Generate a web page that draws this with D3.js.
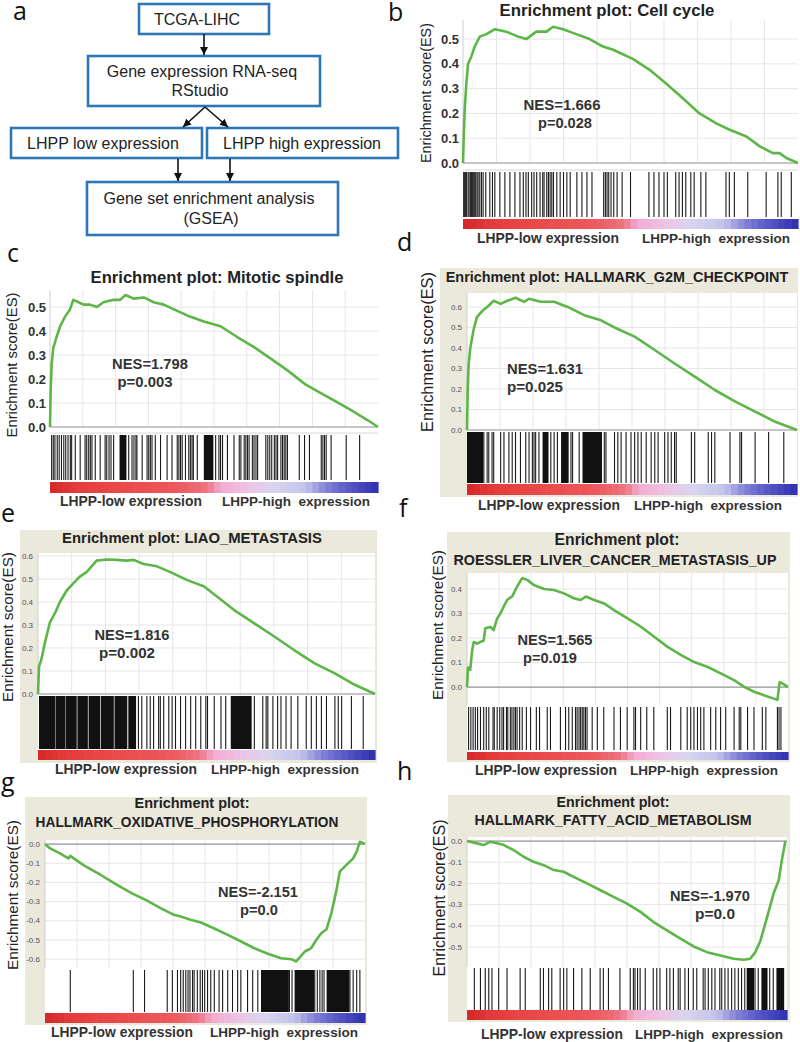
<!DOCTYPE html>
<html><head><meta charset="utf-8">
<script src="https://cdn.jsdelivr.net/npm/d3@7"></script>
<style>body{margin:0;background:#fff} svg{display:block} text{font-family:"Liberation Sans",Arial,sans-serif}</style>
</head><body><script>
const RANKS = 1000;

// ---------- data: running enrichment score, [rank, ES] ----------
const cellCycleES = [[0,0],[2,0.094],[5,0.215],[10,0.32],[15,0.40],[25,0.43],[35,0.47],[50,0.51],[70,0.52],[95,0.54],[129,0.53],[164,0.51],[189,0.50],[219,0.53],[249,0.53],[269,0.55],[299,0.54],[338,0.52],[378,0.50],[418,0.47],[448,0.457],[507,0.42],[557,0.376],[607,0.32],[657,0.26],[706,0.20],[756,0.16],[796,0.134],[846,0.107],[886,0.067],[925,0.04],[945,0.04],[965,0.02],[1000,0]];
const mitoticES = [[0,0],[2,0.15],[5,0.26],[10,0.33],[20,0.375],[31,0.42],[46,0.46],[61,0.49],[71,0.53],[87,0.52],[102,0.51],[122,0.51],[143,0.50],[163,0.52],[194,0.53],[214,0.53],[230,0.55],[255,0.535],[286,0.54],[316,0.52],[347,0.51],[378,0.49],[418,0.465],[469,0.44],[520,0.42],[571,0.375],[622,0.333],[673,0.285],[724,0.236],[776,0.18],[827,0.14],[867,0.11],[918,0.07],[969,0.028],[1000,0]];
const g2mES = [[0,0],[2,0.19],[5,0.32],[10,0.40],[20,0.49],[30,0.55],[46,0.58],[61,0.60],[81,0.63],[102,0.615],[122,0.63],[147,0.645],[173,0.625],[188,0.64],[223,0.625],[264,0.625],[305,0.60],[355,0.56],[406,0.535],[447,0.50],[508,0.455],[569,0.39],[629,0.324],[690,0.26],[751,0.195],[812,0.14],[873,0.09],[934,0.04],[1000,0]];
const liaoES = [[0,0],[3,0.12],[10,0.15],[20,0.22],[35,0.31],[50,0.35],[65,0.40],[85,0.45],[104,0.48],[124,0.51],[144,0.53],[159,0.555],[174,0.58],[204,0.585],[234,0.583],[264,0.58],[284,0.583],[313,0.565],[353,0.555],[393,0.53],[443,0.495],[493,0.467],[532,0.423],[582,0.365],[642,0.307],[701,0.25],[761,0.19],[821,0.133],[881,0.09],[940,0.04],[1000,0]];
const roesslerES = [[0,0],[3,0.08],[10,0.07],[16,0.15],[21,0.184],[31,0.177],[42,0.184],[52,0.19],[57,0.24],[73,0.245],[83,0.232],[94,0.28],[104,0.30],[115,0.33],[125,0.355],[141,0.37],[156,0.41],[172,0.444],[188,0.437],[208,0.416],[240,0.40],[271,0.396],[302,0.382],[333,0.362],[354,0.355],[370,0.369],[396,0.355],[427,0.341],[458,0.314],[500,0.28],[542,0.246],[583,0.205],[625,0.164],[667,0.13],[708,0.102],[750,0.082],[792,0.055],[833,0.027],[865,0],[896,-0.02],[927,-0.034],[958,-0.048],[967,-0.052],[974,0.02],[984,0.014],[1000,0]];
const oxphosES = [[0,0],[16,-0.023],[47,-0.049],[73,-0.075],[79,-0.062],[120,-0.11],[173,-0.16],[225,-0.213],[272,-0.257],[319,-0.295],[361,-0.334],[403,-0.369],[424,-0.378],[455,-0.395],[487,-0.409],[529,-0.44],[571,-0.473],[613,-0.508],[654,-0.543],[696,-0.572],[738,-0.595],[770,-0.6],[785,-0.612],[812,-0.56],[832,-0.542],[848,-0.499],[864,-0.464],[880,-0.444],[895,-0.36],[911,-0.239],[921,-0.144],[942,-0.109],[963,-0.075],[974,-0.04],[984,0.012],[1000,0]];
const fattyES = [[0,0],[31,-0.011],[52,-0.019],[73,-0.003],[94,-0.011],[115,-0.019],[146,-0.043],[177,-0.074],[208,-0.098],[240,-0.114],[271,-0.137],[302,-0.145],[333,-0.169],[375,-0.2],[417,-0.232],[458,-0.263],[500,-0.295],[542,-0.334],[583,-0.382],[625,-0.421],[667,-0.46],[708,-0.497],[750,-0.524],[792,-0.54],[833,-0.555],[865,-0.56],[885,-0.555],[901,-0.524],[917,-0.47],[938,-0.358],[958,-0.248],[974,-0.185],[984,-0.09],[995,0]];

// ---------- data: gene-set hit ranks, and solid runs [from, to] ----------
const cellCycleHits = [2,5,8,10,15,18,22,25,28,32,35,38,42,45,50,55,60,68,80,88,95,110,125,140,155,170,180,188,195,205,212,220,230,238,242,250,255,260,265,270,280,290,300,310,320,340,355,370,385,420,425,430,435,442,450,460,475,500,555,570,585,600,610,635,645,655,665,680,690,710,725,785,795,810,850,905,940,950,980];
const cellCycleRuns = [];
const mitoticHits = [5,10,15,22,28,35,42,48,55,62,66,77,92,107,112,118,123,128,138,153,168,173,180,186,194,240,250,256,262,265,281,296,301,306,311,321,337,357,372,388,393,398,403,413,423,428,433,437,449,505,515,520,526,541,561,577,582,592,597,602,607,617,622,628,633,658,664,670,676,684,689,694,704,709,714,719,724,760,776,791,827,832,837,842,857,903,944];
const mitoticRuns = [[212,230],[469,495]];
const g2mHits = [51,61,66,76,81,102,112,127,137,147,162,178,188,198,203,208,218,254,264,274,315,320,340,416,421,447,457,467,482,497,508,518,528,543,558,569,579,599,609,619,629,634,680,690,731,741,751,797,827,832,873,914,960];
const g2mRuns = [[0,46],[229,244],[285,305],[350,406]];
const liaoHits = [298,308,323,333,343,358,363,373,388,398,408,423,438,453,468,483,498,503,523,543,557,642,667,677,682,697,711,721,736,751,771,796,811,826,841,856,881,891,901,930,965];
const liaoRuns = [[3,48],[52,78],[82,112],[117,145],[150,182],[187,222],[227,262],[268,288],[572,631]];
const roesslerHits = [5,12,19,26,33,42,52,60,68,81,85,94,102,109,114,123,127,135,140,146,151,156,164,172,185,198,216,226,250,260,291,307,317,328,338,343,349,354,359,364,369,374,390,406,426,458,478,499,520,525,541,560,582,624,634,666,686,697,707,718,728,738,759,775,790,806,832,848,853,874,894,920,931,967,972,978];
const roesslerRuns = [];
const oxphosHits = [79,276,311,382,398,414,424,432,440,447,453,461,466,476,485,492,499,508,518,529,544,555,571,586,602,612,633,649,665,764,772,843,851,859,866,872,953,963,974,984];
const oxphosRuns = [[675,759],[780,838],[880,948]];
const fattyHits = [23,42,57,68,78,99,125,166,182,229,239,255,265,291,302,312,333,359,385,416,426,442,478,510,520,525,533,541,557,582,593,603,624,634,645,660,666,681,692,707,718,738,744,754,765,775,790,796,806,816,827,837,848,858,868,900,910,946,957];
const fattyRuns = [[874,894],[920,936],[967,988]];

// ---------- axis ticks ----------
const ticks05 = [0,0.1,0.2,0.3,0.4,0.5];
const ticks06 = [0,0.1,0.2,0.3,0.4,0.5,0.6];
const ticks04 = [0,0.1,0.2,0.3,0.4];
const ticksNeg06 = [0,-0.1,-0.2,-0.3,-0.4,-0.5,-0.6];
const ticksNeg05 = [0,-0.1,-0.2,-0.3,-0.4,-0.5];

// ---------- ranked-list colour bar ----------
const barStops = [0,80,160,250,400,480,520,600,680,780,840,900,1000];
const barColors = ["#d42828","#e43a3a","#e84444","#ea4c4c","#ec5a60","#ee7482","#f2acd0","#efc2e4","#d9d5f0","#c2c2ec","#8484d8","#5c5cc8","#3030b0"];

// ---------- texts ----------
const lowLabel = "LHPP-low expression";
const highLabel = "LHPP-high\u00a0 expression";
const yLabel = "Enrichment score(ES)";

const W = 800, H = 1042;
const svg = d3.select("body").append("svg").attr("width", W).attr("height", H);

function fit(sel, width) {
  const w = sel.node().getComputedTextLength();
  if (w > 0) sel.attr("font-size", parseFloat(sel.attr("font-size")) * width / w);
  return sel;
}

// ---------- panel a : flowchart ----------
(function () {
  const g = svg.append("g");
  const blue = "#2f76b7";
  const defs = svg.append("defs");
  defs.append("marker").attr("id", "arr").attr("viewBox", "0 0 10 10").attr("refX", 10).attr("refY", 5)
    .attr("markerWidth", 8).attr("markerHeight", 8).attr("markerUnits", "userSpaceOnUse").attr("orient", "auto")
    .append("path").attr("d", "M0,0L10,5L0,10z").attr("fill", "#111");
  const boxes = [[139,4,269,34],[88,56,320,106],[11,128,202,158],[207,128,398,158],[87,182,338,235]];
  g.selectAll("rect").data(boxes).join("rect")
    .attr("x", d => d[0]).attr("y", d => d[1]).attr("width", d => d[2]-d[0]).attr("height", d => d[3]-d[1])
    .attr("fill", "#fff").attr("stroke", blue).attr("stroke-width", 2.6);
  const arrows = [[204,34,204,55],[205,107,183,127],[205,107,228,127],[178,159,178,181],[230,159,230,181]];
  g.selectAll("line").data(arrows).join("line")
    .attr("x1", d => d[0]).attr("y1", d => d[1]).attr("x2", d => d[2]).attr("y2", d => d[3])
    .attr("stroke", "#111").attr("stroke-width", 1.6).attr("marker-end", "url(#arr)");
  const texts = [["TCGA-LIHC",197,25],["Gene expression RNA-seq",202,77],["RStudio",200,96],["LHPP low expression",103,149],["LHPP high expression",302,149],["Gene set enrichment analysis",209,204],["(GSEA)",211,224]];
  g.selectAll("text").data(texts).join("text").attr("x", d => d[1]).attr("y", d => d[2]).attr("text-anchor", "middle")
    .attr("font-size", 16).attr("fill", "#222").text(d => d[0]);
})();

// panel letters
const letters = [["a",13,20],["b",388,21],["c",7,262],["d",397,251],["e",1,522],["f",399,517],["g",1,791],["h",397,780]];
svg.selectAll(".letter").data(letters).join("text").attr("class","letter")
  .attr("x", d => d[1]).attr("y", d => d[2]).attr("font-size", 25).style("font-family","'Open Sans',sans-serif").attr("fill","#111").text(d => d[0]);

// ---------- GSEA panels ----------
const panels = [
  {es: cellCycleES, hits: cellCycleHits, runs: cellCycleRuns, yDomain: [0,0.577], ticks: ticks05, big: true,
   x0: 463, x1: 798, top: 20, bottom: 163, hitTop: 172, hitBottom: 217, barTop: 219, barBottom: 229,
   title: [["Enrichment plot: Cell cycle", 607, 16, 215]], titleSize: 16,
   ylab: [431, 93, 140], nes: ["NES=1.666", 562, 110, 77], p: ["p=0.028", 565, 128, 54],
   lab: [548, 716, 243]},
  {es: mitoticES, hits: mitoticHits, runs: mitoticRuns, yDomain: [0,0.571], ticks: ticks05, big: true,
   x0: 50, x1: 378, top: 290, bottom: 427, hitTop: 435, hitBottom: 480, barTop: 482, barBottom: 493,
   title: [["Enrichment plot: Mitotic spindle", 217, 283, 253]], titleSize: 16,
   ylab: [17, 365, 145], nes: ["NES=1.798", 150, 369, 76], p: ["p=0.003", 145, 387, 55],
   lab: [131, 296, 506]},
  {es: g2mES, hits: g2mHits, runs: g2mRuns, yDomain: [0,0.668], ticks: ticks06, frame: [440,268,798,497],
   x0: 467, x1: 797, top: 293, bottom: 430, hitTop: 432, hitBottom: 483, barTop: 484, barBottom: 495,
   title: [["Enrichment plot: HALLMARK_G2M_CHECKPOINT", 617, 282, 343]], titleSize: 14,
   ylab: [433, 352, 160], nes: ["NES=1.631", 545, 374, 76], p: ["p=0.025", 535, 392, 56],
   lab: [549, 708, 510]},
  {es: liaoES, hits: liaoHits, runs: liaoRuns, yDomain: [0,0.613], ticks: ticks06, frame: [20,530,377,763],
   x0: 38, x1: 375, top: 553, bottom: 694, hitTop: 696, hitBottom: 749, barTop: 750, barBottom: 760,
   title: [["Enrichment plot: LIAO_METASTASIS", 192, 543, 260]], titleSize: 14,
   ylab: [13, 627, 150], nes: ["NES=1.816", 132, 640, 75], p: ["p=0.002", 127, 658, 56],
   lab: [126, 285, 774]},
  {es: roesslerES, hits: roesslerHits, runs: roesslerRuns, yDomain: [-0.073,0.465], ticks: ticks04, frame: [447,532,790,762],
   x0: 467, x1: 788, top: 573, bottom: 705, hitTop: 707, hitBottom: 750, barTop: 752, barBottom: 760,
   title: [["Enrichment plot:", 617, 545, 125], ["ROESSLER_LIVER_CANCER_METASTASIS_UP", 615, 565, 323]], titleSize: 14,
   ylab: [443, 625, 150], nes: ["NES=1.565", 555, 645, 75], p: ["p=0.019", 550, 663, 54],
   lab: [546, 704, 775]},
  {es: oxphosES, hits: oxphosHits, runs: oxphosRuns, yDomain: [-0.646,0.021], ticks: ticksNeg06, frame: [25,797,367,1025],
   x0: 45, x1: 365, top: 840, bottom: 968, hitTop: 970, hitBottom: 1012, barTop: 1013, barBottom: 1023,
   title: [["Enrichment plot:", 192, 808, 115], ["HALLMARK_OXIDATIVE_PHOSPHORYLATION", 187, 827, 303]], titleSize: 14,
   ylab: [18, 895, 150], nes: ["NES=-2.151", 258, 897, 80], p: ["p=0.0", 259, 915, 38],
   lab: [122, 284, 1037]},
  {es: fattyES, hits: fattyHits, runs: fattyRuns, yDomain: [-0.594,0.019], ticks: ticksNeg05, frame: [448,795,790,1022],
   x0: 467, x1: 787, top: 837, bottom: 967, hitTop: 968, hitBottom: 1010, barTop: 1010, barBottom: 1020,
   title: [["Enrichment plot:", 613, 807, 113], ["HALLMARK_FATTY_ACID_METABOLISM", 613, 825, 277]], titleSize: 14,
   ylab: [445, 898, 157], nes: ["NES=-1.970", 710, 901, 80], p: ["p=0.0", 715, 919, 40],
   lab: [552, 709, 1039]}
];

const barScale = d3.scaleLinear().domain(barStops).range(barColors).interpolate(d3.interpolateRgb);

panels.forEach(c => {
  const g = svg.append("g");
  if (c.frame) g.append("rect").attr("x", c.frame[0]).attr("y", c.frame[1])
    .attr("width", c.frame[2]-c.frame[0]).attr("height", c.frame[3]-c.frame[1]).attr("fill", "#ebe8dc");
  const x = d3.scaleLinear().domain([0, RANKS]).range([c.x0, c.x1]);
  const y = d3.scaleLinear().domain(c.yDomain).range([c.bottom, c.top]);
  g.append("rect").attr("x", c.x0).attr("y", c.top).attr("width", c.x1-c.x0).attr("height", c.barBottom-c.top).attr("fill", "#fff");
  // grid
  const vgrid = x.ticks(8).filter(d => d > 0 && d < RANKS);
  g.selectAll(".vg").data(vgrid).join("line").attr("x1", d => x(d)).attr("x2", d => x(d))
    .attr("y1", c.top).attr("y2", c.bottom).attr("stroke", "#e6e6e6");
  g.selectAll(".hg").data(c.ticks).join("line").attr("x1", c.x0).attr("x2", c.x1)
    .attr("y1", d => y(d)).attr("y2", d => y(d)).attr("stroke", "#e6e6e6");
  g.append("line").attr("x1", c.x0).attr("x2", c.x0).attr("y1", c.top).attr("y2", c.bottom).attr("stroke", "#cfcfcf");
  g.append("line").attr("x1", c.x0).attr("x2", c.x1).attr("y1", y(0)).attr("y2", y(0)).attr("stroke", "#9a9a9a").attr("stroke-width", 1.2);
  if (c.big) g.append("line").attr("x1", c.x0).attr("x2", c.x1).attr("y1", c.hitTop - 2).attr("y2", c.hitTop - 2).attr("stroke", "#d8d8d8");
  // hits
  g.selectAll(".hit").data(c.hits).join("line").attr("x1", d => x(d)).attr("x2", d => x(d))
    .attr("y1", c.hitTop).attr("y2", c.hitBottom).attr("stroke", "#1a1a1a").attr("stroke-width", 1.1);
  g.selectAll(".run").data(c.runs).join("rect").attr("x", d => x(d[0])).attr("width", d => x(d[1]) - x(d[0]) + 1)
    .attr("y", c.hitTop).attr("height", c.hitBottom - c.hitTop).attr("fill", "#111");
  // colour bar
  const blocks = d3.range(0, RANKS, 20);
  g.selectAll(".blk").data(blocks).join("rect").attr("x", d => x(d)).attr("width", d => x(d + 20) - x(d) + 0.6)
    .attr("y", c.barTop).attr("height", c.barBottom - c.barTop).attr("fill", d => barScale(d + 10));
  // ES curve
  g.append("path").datum(c.es).attr("d", d3.line().x(d => x(d[0])).y(d => y(d[1])))
    .attr("fill", "none").attr("stroke", "#5db647").attr("stroke-width", 2.6).attr("stroke-linejoin", "round");
  // tick labels
  g.selectAll(".tk").data(c.ticks).join("text").attr("x", c.x0 - (c.big ? 4 : 5)).attr("y", d => y(d))
    .attr("dy", c.big ? "0.35em" : "0.32em").attr("text-anchor", "end")
    .attr("font-size", c.big ? 13 : 8).attr("font-weight", c.big ? "bold" : "normal")
    .attr("fill", c.big ? "#333" : "#555").text(d => d.toFixed(1));
  // title
  c.title.forEach(t => {
    fit(g.append("text").attr("x", t[1]).attr("y", t[2]).attr("text-anchor", "middle").attr("font-size", c.titleSize)
      .attr("font-weight", "bold").attr("fill", "#222").text(t[0]), t[3]);
  });
  // y label
  fit(g.append("text").attr("transform", `translate(${c.ylab[0]},${c.ylab[1]}) rotate(-90)`).attr("text-anchor", "middle")
    .attr("font-size", 15).attr("fill", "#222").text(yLabel), c.ylab[2]);
  // NES / p
  [c.nes, c.p].forEach(t => {
    fit(g.append("text").attr("x", t[1]).attr("y", t[2]).attr("text-anchor", "middle").attr("font-size", 15)
      .attr("font-weight", "bold").attr("fill", "#333").text(t[0]), t[3]);
  });
  // bottom labels
  fit(g.append("text").attr("x", c.lab[0]).attr("y", c.lab[2]).attr("text-anchor", "middle").attr("font-size", 13)
    .attr("font-weight", "bold").attr("fill", "#333").text(lowLabel), 142);
  fit(g.append("text").attr("x", c.lab[1]).attr("y", c.lab[2]).attr("text-anchor", "middle").attr("font-size", 13)
    .attr("font-weight", "bold").attr("fill", "#333").text(highLabel), 148);
});
</script></body></html>
